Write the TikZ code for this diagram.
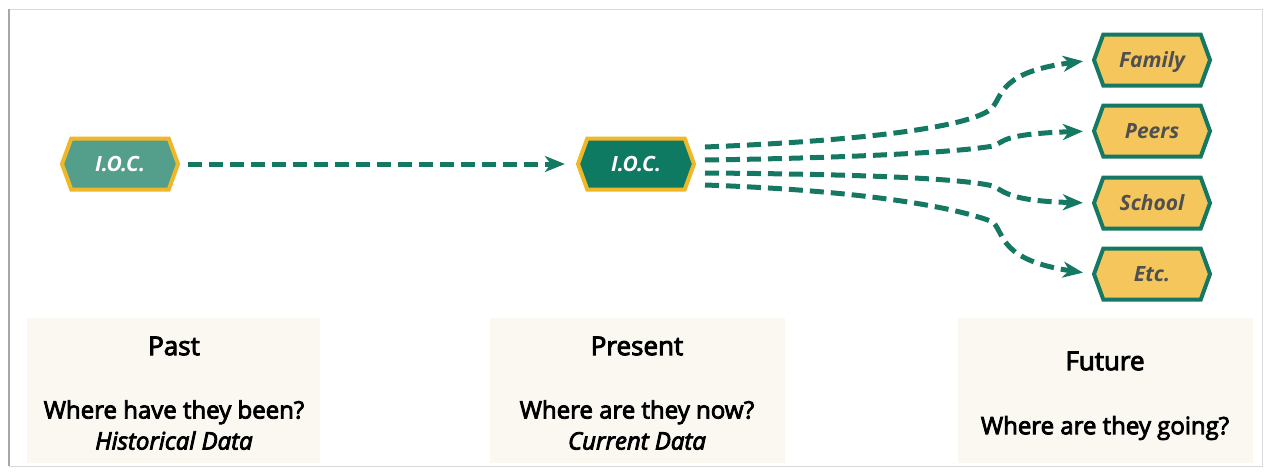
\documentclass[tikz,border=0pt]{standalone}
\usepackage{fontspec}
\setmainfont{Open Sans}
\newfontfamily\semib{Open Sans}[FakeBold=3.5]
\usetikzlibrary{shapes.symbols,arrows.meta}
\definecolor{teal1}{RGB}{20,120,98}
\definecolor{pastfill}{RGB}{84,158,140}
\definecolor{presfill}{RGB}{14,122,98}
\definecolor{gold1}{RGB}{240,183,40}
\definecolor{yell}{RGB}{244,198,92}
\definecolor{txtgray}{RGB}{80,80,80}
\definecolor{beige}{RGB}{250,248,241}
\begin{document}
\begin{tikzpicture}[x=1pt,y=-1pt,
  hexa/.style={shape=signal, signal to=west and east, signal pointer angle=140,
    inner sep=0pt, minimum width=116pt, minimum height=51pt, line width=4pt,
    text height=15pt, text depth=0pt},
  iocbox/.style={hexa, draw=gold1, text=white,
    font=\fontsize{21}{24}\selectfont\bfseries\itshape},
  tgtbox/.style={hexa, draw=teal1, fill=yell, text=txtgray,
    font=\fontsize{21}{24}\selectfont\bfseries\itshape},
  flow/.style={draw=teal1, line width=5pt, dash pattern=on 14pt off 7pt,
    -{Stealth[length=20pt,width=16pt,inset=6pt]}},
  panel/.style={fill=beige, draw=none},
  ptitle/.style={font=\semib\fontsize{26}{28}\selectfont, text=black},
  ptext/.style={font=\semib\fontsize{24}{31}\selectfont, text=black, align=center},
]
\useasboundingbox (0,0) rectangle (1266,472);
\fill[white] (0,0) rectangle (1266,472);
\draw[black!15, line width=1pt] (9,9) rectangle (1262,466);
\draw[black!35, line width=2pt] (9,9) -- (9,466);

% panels
\path[panel] (27,318) rectangle (320,463);
\path[panel] (490,318) rectangle (785,463);
\path[panel] (958,318) rectangle (1253,463);

\node[ptitle] (tpast) at (174,346) {Past};
\node[ptext] (qpast) at (174,425) {Where have they been?\\\textit{Historical Data}};
\node[ptitle] (tpres) at (637,346) {Present};
\node[ptext] (qpres) at (637,425) {Where are they now?\\\textit{Current Data}};
\node[ptitle] (tfut) at (1105,361) {Future};
\node[ptext] (qfut) at (1105,428) {Where are they going?};

% IOC nodes
\node[iocbox, fill=pastfill] (ioc1) at (120,164) {I.O.C.};
\node[iocbox, fill=presfill] (ioc2) at (636,164) {I.O.C.};

% target nodes
\node[tgtbox] (fam) at (1152,60) {Family};
\node[tgtbox] (peer) at (1152,131) {Peers};
\node[tgtbox] (sch) at (1152,203) {School};
\node[tgtbox] (etc) at (1152,274) {Etc.};

% connectors
\draw[flow, shorten <=8pt, shorten >=11pt] (ioc1.east) -- (ioc2.west);

\coordinate (s1) at (705,147);
\coordinate (s2) at (705,160);
\coordinate (s3) at (705,173);
\coordinate (s4) at (705,185);

\draw[flow, shorten >=9pt] (s1) .. controls (880,140) and (975,125) .. (992,108)
   .. controls (1003,95) and (1000,72) .. (fam.west);
\draw[flow, shorten >=9pt] (s2) .. controls (850,158) and (960,152) .. (993,146)
   .. controls (1005,142) and (1000,134) .. (peer.west);
\draw[flow, shorten >=9pt] (s3) .. controls (850,174) and (960,178) .. (993,186)
   .. controls (1005,192) and (1010,201) .. (sch.west);
\draw[flow, shorten >=9pt] (s4) .. controls (850,190) and (950,205) .. (993,222)
   .. controls (1005,235) and (1000,260) .. (etc.west);
\end{tikzpicture}
\end{document}
